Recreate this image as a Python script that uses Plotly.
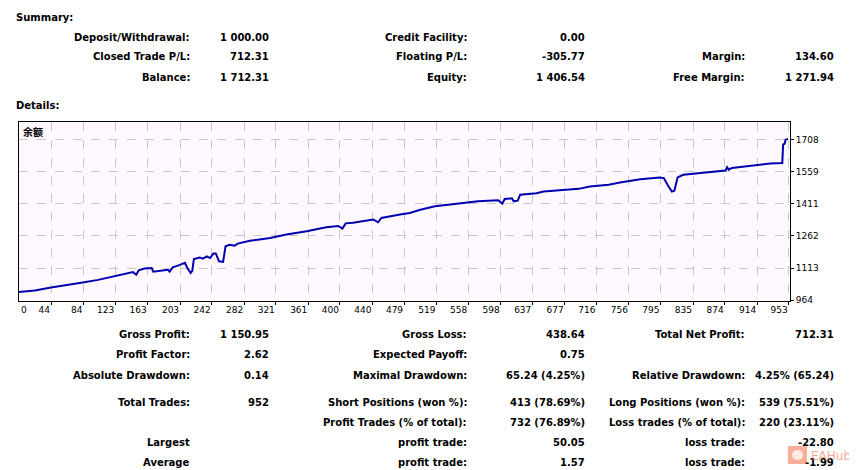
import plotly.graph_objects as go

# ---------------- data ----------------
TRADE_NO = [0, 24, 44, 65, 83, 102, 122, 139, 145, 149, 152, 159, 168, 170, 188, 190, 194, 201, 209, 212, 216,
            218, 220, 227, 231, 236, 240, 244, 247, 251, 256, 259, 264, 270, 274, 289, 314, 334, 359, 383, 398, 403,
            407, 416, 441, 447, 451, 474, 486, 499, 517, 544, 570, 595, 600, 603, 612, 614, 619, 622, 642, 651, 673,
            694, 708, 731, 745, 770, 794, 799, 805, 809, 812, 816, 823, 865, 875, 877, 879, 883, 910, 930, 945, 946,
            948, 949, 952]
BALANCE = [1000, 1009, 1023, 1034, 1046, 1058, 1074, 1090, 1094, 1082, 1102, 1111, 1113, 1096, 1105, 1096, 1116,
           1125, 1137, 1113, 1090, 1100, 1155, 1162, 1156, 1167, 1159, 1180, 1180, 1144, 1141, 1214, 1221, 1216, 1226,
           1239, 1252, 1268, 1283, 1302, 1308, 1296, 1320, 1323, 1338, 1325, 1345, 1361, 1368, 1383, 1399, 1411, 1422,
           1427, 1411, 1433, 1436, 1422, 1425, 1453, 1460, 1468, 1474, 1480, 1491, 1499, 1509, 1525, 1533, 1530, 1490,
           1467, 1471, 1533, 1545, 1562, 1565, 1580, 1569, 1577, 1589, 1597, 1600, 1685, 1690, 1708, 1712]
X_TICK_LABELS = [0, 44, 84, 123, 163, 203, 242, 282, 321, 361, 400, 440, 479, 519, 558, 598, 637, 677, 716, 756,
                 795, 835, 874, 914, 953]
Y_TICK_LABELS = [964, 1113, 1262, 1411, 1559, 1708]
SERIES_NAME = "余额"

SUMMARY_TITLE = "Summary:"
DETAILS_TITLE = "Details:"
SUMMARY_ROWS = [
    ["Deposit/Withdrawal:", "1 000.00", "Credit Facility:", "0.00", "", ""],
    ["Closed Trade P/L:", "712.31", "Floating P/L:", "-305.77", "Margin:", "134.60"],
    ["Balance:", "1 712.31", "Equity:", "1 406.54", "Free Margin:", "1 271.94"],
]
DETAIL_ROWS = [
    ["Gross Profit:", "1 150.95", "Gross Loss:", "438.64", "Total Net Profit:", "712.31"],
    ["Profit Factor:", "2.62", "Expected Payoff:", "0.75", "", ""],
    ["Absolute Drawdown:", "0.14", "Maximal Drawdown:", "65.24 (4.25%)", "Relative Drawdown:", "4.25% (65.24)"],
    ["Total Trades:", "952", "Short Positions (won %):", "413 (78.69%)", "Long Positions (won %):", "539 (75.51%)"],
    ["", "", "Profit Trades (% of total):", "732 (76.89%)", "Loss trades (% of total):", "220 (23.11%)"],
    ["Largest", "", "profit trade:", "50.05", "loss trade:", "-22.80"],
    ["Average", "", "profit trade:", "1.57", "loss trade:", "-1.99"],
]
WATERMARK = "EAHub"

# ---------------- layout geometry (page pixels; page body has an 8px margin) ----------------
OFF = 8
W, H = 857 - OFF, 470 - OFF
PLOT_X0, PLOT_X1, PLOT_Y0, PLOT_Y1 = 19, 790, 122, 301
L, T = PLOT_X0 - OFF, PLOT_Y0 - OFF
R, B = W - (PLOT_X1 - OFF), H - (PLOT_Y1 - OFF)
X_RANGE = [4.5, 954.5]
Y_RANGE = [960, 1790]
COL_RIGHT = [192, 271, 469, 587, 747, 836]
SUMMARY_Y = [37, 57, 77]
DETAIL_Y = [334, 354, 375, 402, 422, 442, 462]
FONT = "'DejaVu Sans', Verdana, sans-serif"


def paper(px, py):
    fx, fy = px - OFF, py - OFF
    return (fx - L) / (W - L - R), 1 - (fy - T) / (H - T - B)


fig = go.Figure()
fig.add_trace(go.Scatter(x=TRADE_NO, y=BALANCE, mode="lines",
                         line=dict(color="#0000B0", width=2), hoverinfo="skip", showlegend=False))

ann = []


def text(s, px, py, anchor="right", size=10, bold=True, color="#000000", family=FONT):
    x, y = paper(px, py)
    ann.append(dict(text=s, x=x, y=y, xref="paper", yref="paper", xanchor=anchor, yanchor="middle",
                    showarrow=False, font=dict(family=family, size=size, color=color,
                                               weight="bold" if bold else "normal")))


text(SUMMARY_TITLE, 14, 18, anchor="left")
text(DETAILS_TITLE, 14, 105, anchor="left")
for row, y in zip(SUMMARY_ROWS, SUMMARY_Y):
    for s, x in zip(row, COL_RIGHT):
        if s:
            text(s, x, y)
for row, y in zip(DETAIL_ROWS, DETAIL_Y):
    for s, x in zip(row, COL_RIGHT):
        if s:
            text(s, x, y)

# series label in the corner and the first x label
text(SERIES_NAME, 21, 131, anchor="left", size=10, bold=True, family="'Noto Sans CJK SC', sans-serif")
ann.append(dict(text=str(X_TICK_LABELS[0]), x=X_RANGE[0], y=0, xref="x", yref="paper", xanchor="left",
                yanchor="top", yshift=-2, showarrow=False, font=dict(family=FONT, size=9, color="#000")))

# watermark (icon + text)
wx0, wy0 = paper(788, 446)
wx1, wy1 = paper(807, 464)
fx0, fy0 = paper(792, 450)
fx1, fy1 = paper(803, 460)
shapes = [
    dict(type="rect", xref="paper", yref="paper", x0=wx0, x1=wx1, y0=wy1, y1=wy0,
         fillcolor="rgba(245,110,70,0.55)", line=dict(width=0), layer="above"),
    dict(type="circle", xref="paper", yref="paper", x0=fx0, x1=fx1, y0=fy1, y1=fy0,
         fillcolor="rgba(255,255,255,0.75)", line=dict(width=0), layer="above"),
]
text(WATERMARK, 809, 456, anchor="left", size=12, bold=False, color="rgba(245,110,70,0.6)")

fig.update_layout(
    width=W, height=H, margin=dict(l=L, r=R, t=T, b=B, pad=0),
    paper_bgcolor="#FFFFFF", plot_bgcolor="#FFF9FF",
    annotations=ann, shapes=shapes, showlegend=False,
    xaxis=dict(range=X_RANGE, tickmode="array", tickvals=X_TICK_LABELS[1:],
               ticktext=[str(v) for v in X_TICK_LABELS[1:]], ticklabelposition="outside left",
               showgrid=True, gridcolor="#C8C8C8", griddash="dash", gridwidth=1,
               showline=True, linecolor="#000", linewidth=1, mirror=True,
               ticks="outside", ticklen=3, tickcolor="#000",
               tickfont=dict(family=FONT, size=9, color="#000"), zeroline=False, fixedrange=True),
    yaxis=dict(range=Y_RANGE, side="right", tickmode="array", tickvals=Y_TICK_LABELS,
               ticktext=[str(v) for v in Y_TICK_LABELS],
               showgrid=True, gridcolor="#C8C8C8", griddash="dash", gridwidth=1,
               showline=True, linecolor="#000", linewidth=1, mirror=True,
               ticks="outside", ticklen=3, tickcolor="#000",
               tickfont=dict(family=FONT, size=9, color="#000"), zeroline=False, fixedrange=True),
)

fig.write_html("out.html")
